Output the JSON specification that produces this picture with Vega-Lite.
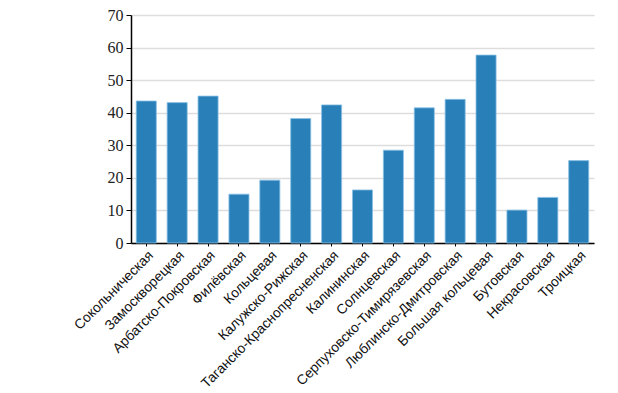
{
  "$schema": "https://vega.github.io/schema/vega-lite/v6.json",
  "autosize": "none",
  "width": 463,
  "height": 228,
  "padding": {"left": 131, "top": 15, "right": 24, "bottom": 150},
  "background": "white",
  "data": {"values": [
    {"line": "Сокольническая", "value": 43.6},
    {"line": "Замоскворецкая", "value": 43.1},
    {"line": "Арбатско-Покровская", "value": 45.1},
    {"line": "Филёвская", "value": 15.0},
    {"line": "Кольцевая", "value": 19.3},
    {"line": "Калужско-Рижская", "value": 38.2},
    {"line": "Таганско-Краснопресненская", "value": 42.4},
    {"line": "Калининская", "value": 16.3},
    {"line": "Солнцевская", "value": 28.5},
    {"line": "Серпуховско-Тимирязевская", "value": 41.5},
    {"line": "Люблинско-Дмитровская", "value": 44.1},
    {"line": "Большая кольцевая", "value": 57.7},
    {"line": "Бутовская", "value": 10.1},
    {"line": "Некрасовская", "value": 14.0},
    {"line": "Троицкая", "value": 25.3}
  ]},
  "mark": {"type": "bar", "color": "#2980b9", "stroke": "#8cc2e6", "strokeWidth": 0.8},
  "encoding": {
    "x": {
      "field": "line", "type": "nominal", "sort": null,
      "scale": {"paddingInner": 0.35, "paddingOuter": 0.17},
      "axis": {
        "title": null, "labelAngle": -45, "labelFont": "Liberation Sans", "labelFontSize": 13.8,
        "labelColor": "#111", "domainColor": "#000", "domainWidth": 1.5, "tickColor": "#000",
        "tickSize": 3, "labelPadding": 2, "labelLimit": 300
      }
    },
    "y": {
      "field": "value", "type": "quantitative",
      "scale": {"domain": [0, 70], "nice": false},
      "axis": {
        "title": null, "values": [0, 10, 20, 30, 40, 50, 60, 70],
        "labelFont": "Liberation Serif", "labelFontSize": 16, "labelColor": "#222",
        "domainColor": "#000", "domainWidth": 1.5, "tickColor": "#000", "tickSize": 5,
        "gridColor": "#dddddd", "gridWidth": 1.5, "labelPadding": 3
      }
    }
  },
  "config": {"view": {"stroke": null}}
}
